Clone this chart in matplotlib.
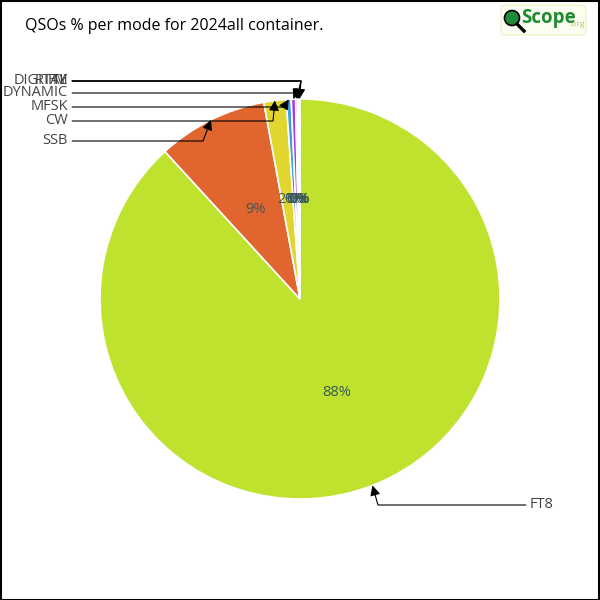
import numpy as np
import matplotlib
matplotlib.use("Agg")
import matplotlib.pyplot as plt
from matplotlib.patches import FancyBboxPatch, Circle, Rectangle

# data (share of QSOs, %)
modes = ["FT8", "SSB", "CW", "MFSK", "DYNAMIC", "DIGITAL", "RTTY", "FM"]
shares = [88.2, 8.9, 1.8, 0.4, 0.35, 0.15, 0.1, 0.1]
colors = ["#bee22e", "#e0652e", "#e0d62e", "#3a9ee0", "#a63ae0",
          "#e03a9e", "#e6a0e6", "#d0e0a0"]

# label positions (pixel coords, y up) and elbow x for the leader lines
label_xy = [(530, 95), (68, 459), (68, 479), (68, 493), (68, 507), (68, 519), (68, 519), (68, 519)]
elbow_x = [378, 203, 273, 284, 296, 301, 301, 301]

plt.rcParams['font.family'] = ['Open Sans', 'DejaVu Sans']

fig = plt.figure(figsize=(6, 6), dpi=100)
ax = fig.add_axes([0, 0, 1, 1])

cx, cy, R = 300, 301, 200
wedges, texts, autotexts = ax.pie(
    shares, colors=colors, startangle=90, counterclock=False,
    center=(cx, cy), radius=R, autopct=lambda p: f"{p:.0f}%", pctdistance=0.5,
    wedgeprops=dict(edgecolor="white", linewidth=1.2),
    textprops=dict(color="#3a5858", fontsize=10.5))

ax.set_xlim(0, 600)
ax.set_ylim(0, 600)
ax.set_aspect('equal')
ax.axis('off')

for w, name, (tx, ty), ex in zip(wedges, modes, label_xy, elbow_x):
    ang = np.deg2rad((w.theta1 + w.theta2) / 2)
    px, py = cx + R * np.cos(ang), cy + R * np.sin(ang)
    right = tx > cx
    ax.annotate(name, xy=(px, py), xytext=(tx, ty),
                ha='left' if right else 'right', va='center',
                fontsize=10.5, color="#444444",
                arrowprops=dict(arrowstyle="-|>", color="black", lw=0.8,
                                shrinkA=1, shrinkB=0, mutation_scale=15,
                                connectionstyle=f"angle,angleA=0,angleB={np.degrees(np.arctan2(py - ty, px - ex)):.1f},rad=0"))

fig.text(25 / 600, 1 - 26 / 600, "QSOs % per mode for 2024all container.",
         fontsize=11.5, color="black", ha='left', va='center')

# logo box
ax.add_patch(FancyBboxPatch((501, 565), 85, 30, boxstyle="round,pad=0,rounding_size=4",
                            facecolor="#fbfdf0", edgecolor="#e8f0c0", lw=0.8))
ax.add_patch(Circle((512, 582), 7.5, facecolor="#1e8a3a", edgecolor="black", lw=1.2))
ax.plot([517, 524], [576, 569], color="black", lw=2.4)
ax.text(521, 582, "Scope", color="#1c8a2e", fontsize=13.5, fontweight='bold', va='center', ha='left')
ax.text(569, 575, ".org", color="#a8d060", fontsize=6, va='center', ha='left')

ax.add_patch(Rectangle((0.5, 0.5), 598.5, 598.5, fill=False, edgecolor="black", lw=1.5))

fig.savefig("out.png", dpi=100)
